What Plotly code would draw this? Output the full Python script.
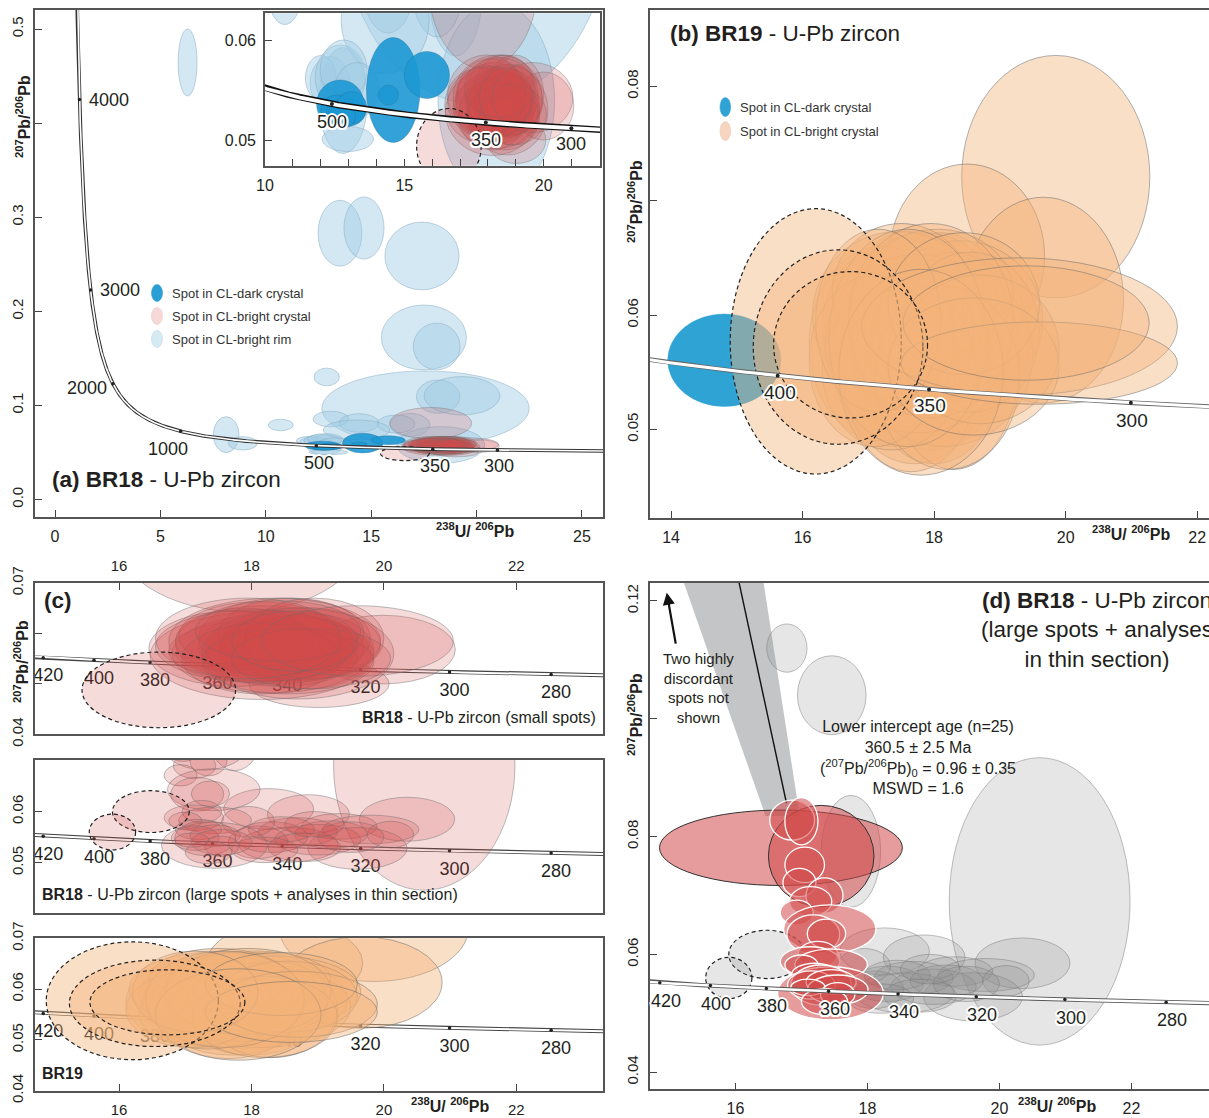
import numpy as np
import plotly.graph_objects as go

W, H = 1209, 1118
F = "Liberation Sans, Arial, Helvetica, sans-serif"
TXT = "#231f20"

# ================= DATA =================
# ellipse = (238U/206Pb centre, 207Pb/206Pb centre, half-width, half-height)

# --- BR18 small spots: panel (a), its inset and (c) top ---
br18_rim = [
    (6.29, 0.4644, 0.45, 0.0356), (13.52, 0.2830, 1.04, 0.0350), (14.66, 0.2885, 0.95, 0.0330),
    (17.41, 0.2588, 1.76, 0.0360), (17.50, 0.1722, 2.02, 0.0345), (18.11, 0.1626, 1.11, 0.0248),
    (12.89, 0.1302, 0.60, 0.0094), (17.58, 0.0969, 4.92, 0.0397), (18.18, 0.1093, 1.03, 0.0177),
    (19.31, 0.1102, 1.80, 0.0204), (16.84, 0.0792, 0.95, 0.0124), (13.09, 0.0855, 0.85, 0.0083),
    (14.42, 0.0813, 0.94, 0.0099), (16.18, 0.0802, 0.90, 0.0096), (14.31, 0.0739, 1.58, 0.0106),
    (18.30, 0.0579, 2.09, 0.0195), (12.80, 0.0579, 0.87, 0.0106), (12.33, 0.0614, 0.71, 0.0053),
    (8.12, 0.0689, 0.61, 0.0191), (8.91, 0.0597, 0.69, 0.0071), (10.71, 0.0792, 0.59, 0.0061),
    (12.00, 0.0624, 0.55, 0.0045), (12.70, 0.0625, 0.90, 0.0065), (12.82, 0.0640, 0.84, 0.0060),
    (12.97, 0.0502, 0.92, 0.0025), (13.30, 0.0600, 0.80, 0.0055),
]
br18_dark = [
    (14.60, 0.0600, 0.96, 0.0105), (15.81, 0.0630, 0.81, 0.0047), (12.70, 0.0572, 0.85, 0.0048),
    (14.43, 0.0590, 0.36, 0.0020), (12.60, 0.0560, 0.60, 0.0030), (12.90, 0.0555, 0.70, 0.0028),
    (13.10, 0.0565, 0.55, 0.0032), (12.75, 0.0548, 0.50, 0.0025),
]
br18_bright = [
    (17.82, 0.0810, 1.95, 0.0167), (19.99, 0.0568, 1.09, 0.0068), (19.02, 0.0500, 1.06, 0.0047),
    (18.16, 0.0556, 1.69, 0.0087), (18.40, 0.0575, 1.20, 0.0070), (18.20, 0.0580, 1.35, 0.0075),
    (18.60, 0.0570, 1.10, 0.0065), (18.00, 0.0565, 1.25, 0.0060), (18.50, 0.0590, 1.30, 0.0080),
    (18.30, 0.0560, 1.50, 0.0078), (18.75, 0.0580, 1.20, 0.0072), (17.90, 0.0585, 1.05, 0.0065),
    (18.45, 0.0555, 1.15, 0.0060), (18.10, 0.0595, 1.20, 0.0068), (18.85, 0.0565, 1.00, 0.0075),
    (18.25, 0.0570, 0.95, 0.0055), (18.60, 0.0600, 1.10, 0.0070), (17.75, 0.0570, 1.30, 0.0075),
    (18.35, 0.0585, 1.60, 0.0085), (18.95, 0.0590, 1.05, 0.0080), (18.15, 0.0550, 1.20, 0.0070),
    (18.55, 0.0545, 1.30, 0.0065), (18.70, 0.0560, 1.45, 0.0090), (18.05, 0.0575, 1.50, 0.0072),
    (18.90, 0.0550, 1.20, 0.0060), (18.40, 0.0605, 1.25, 0.0060), (17.95, 0.0590, 1.40, 0.0080),
    (18.65, 0.0585, 0.95, 0.0060), (19.60, 0.0585, 1.45, 0.0070),
]
br18_bright_dashed = [(16.60, 0.0488, 1.16, 0.0075)]

# --- BR19: panel (b) and (c) bottom ---
br19_dark = [(14.81, 0.05605, 0.86, 0.00404)]
br19_bright = [
    (19.85, 0.0721, 1.43, 0.0106), (18.50, 0.0651, 1.18, 0.0081), (19.66, 0.0613, 1.22, 0.0090),
    (17.55, 0.0585, 1.05, 0.0083), (17.80, 0.0590, 1.10, 0.0078), (17.95, 0.0570, 1.20, 0.0088),
    (17.40, 0.0565, 0.95, 0.0080), (18.10, 0.0600, 1.00, 0.0072), (17.70, 0.0560, 1.15, 0.0090),
    (18.25, 0.0580, 1.20, 0.0075), (17.30, 0.0590, 1.00, 0.0070), (17.60, 0.0605, 0.90, 0.0068),
    (18.00, 0.0555, 1.05, 0.0085), (17.85, 0.0612, 1.10, 0.0060), (18.40, 0.0595, 1.25, 0.0070),
    (17.20, 0.0575, 1.10, 0.0085), (17.65, 0.0545, 1.00, 0.0082), (18.15, 0.0565, 1.35, 0.0080),
    (17.45, 0.0600, 1.30, 0.0073), (17.90, 0.0583, 0.95, 0.0065), (18.30, 0.0560, 1.00, 0.0095),
    (17.75, 0.0575, 1.40, 0.0078), (17.35, 0.0552, 1.05, 0.0070), (18.05, 0.0620, 1.15, 0.0055),
    (17.50, 0.0620, 1.05, 0.0060), (18.55, 0.0585, 1.05, 0.0070), (17.10, 0.0560, 1.00, 0.0075),
    (17.95, 0.0595, 1.25, 0.0085), (18.20, 0.0545, 1.10, 0.0080), (17.60, 0.0580, 1.20, 0.0095),
    (18.70, 0.0570, 1.20, 0.0065), (17.15, 0.0595, 0.95, 0.0080), (18.45, 0.0610, 1.15, 0.0062),
    (17.80, 0.0550, 1.25, 0.0090), (18.60, 0.0555, 1.30, 0.0060),
]
br19_bright_dashed = [(16.20, 0.0577, 1.30, 0.0116), (16.54, 0.0572, 1.29, 0.0085),
                      (16.73, 0.0574, 1.17, 0.0064)]
br19_bright_b_only = [(19.30, 0.0590, 2.40, 0.0060), (19.60, 0.0558, 2.10, 0.0036),
                      (19.40, 0.0593, 1.87, 0.0050)]

# --- BR18 large spots + thin section: panel (d) and (c) middle ---
br18L_used_big = [(16.69, 0.0781, 1.84, 0.0064), (17.30, 0.0767, 0.80, 0.0086)]
br18L_used = [
    (16.86, 0.0828, 0.34, 0.0034), (17.00, 0.0826, 0.25, 0.0040), (17.05, 0.0752, 0.30, 0.0030),
    (16.97, 0.0722, 0.25, 0.0024), (17.35, 0.0700, 0.28, 0.0030), (17.14, 0.0690, 0.32, 0.0025),
    (16.93, 0.0671, 0.25, 0.0021), (17.43, 0.0643, 0.70, 0.0041), (17.18, 0.0634, 0.40, 0.0033),
    (17.38, 0.0635, 0.29, 0.0025), (17.25, 0.0600, 0.30, 0.0022), (17.13, 0.0588, 0.45, 0.0025),
    (17.45, 0.0583, 0.55, 0.0026), (17.00, 0.0582, 0.25, 0.0017), (17.20, 0.0565, 0.35, 0.0020),
    (17.44, 0.0534, 0.80, 0.0045), (17.30, 0.0548, 0.46, 0.0034), (17.15, 0.0548, 0.36, 0.0024),
    (17.45, 0.0553, 0.38, 0.0021), (17.55, 0.0540, 0.46, 0.0025), (17.10, 0.0544, 0.26, 0.0014),
    (17.55, 0.0532, 0.26, 0.0020), (17.35, 0.0520, 0.35, 0.0022),
]
br18L_excluded = [
    (16.78, 0.1120, 0.305, 0.0041), (17.46, 0.1040, 0.52, 0.0067), (20.61, 0.0690, 1.37, 0.0244),
    (17.75, 0.0775, 0.45, 0.0095), (18.26, 0.0605, 0.68, 0.0040), (18.86, 0.0595, 0.62, 0.0038),
    (20.35, 0.0585, 0.72, 0.0043), (19.33, 0.0571, 0.57, 0.0025), (19.80, 0.0565, 0.73, 0.0028),
    (18.56, 0.0535, 0.75, 0.0034), (19.60, 0.0528, 0.75, 0.0041), (20.10, 0.0555, 0.35, 0.0026),
    (18.30, 0.0550, 0.55, 0.0030), (18.70, 0.0560, 0.60, 0.0028), (19.00, 0.0545, 0.65, 0.0030),
    (18.10, 0.0540, 0.45, 0.0032), (18.45, 0.0565, 0.50, 0.0025), (19.20, 0.0555, 0.55, 0.0027),
    (18.80, 0.0530, 0.55, 0.0028), (19.50, 0.0550, 0.50, 0.0030), (18.20, 0.0525, 0.50, 0.0025),
    (18.95, 0.0575, 0.45, 0.0025), (17.95, 0.0580, 0.40, 0.0030),
]
br18L_dashed = [(16.48, 0.0600, 0.58, 0.0041), (15.90, 0.0560, 0.35, 0.0035)]

# concordia age marks (Ma)
ages_a = [4000, 3000, 2000, 1000, 500, 350, 300]
ages_inset = [500, 350, 300]
ages_b = [400, 350, 300]
ages_cd = [420, 400, 380, 360, 340, 320, 300, 280]

# discordia regression (panel d)
lower_intercept_age = 360.5
common_pb_ratio = 0.96
common_pb_err = 0.35

# ================= HELPERS =================
L238, L235, U85 = 1.55125e-10, 9.8485e-10, 137.88


def tw(age_ma):
    t = np.asarray(age_ma, float) * 1e6
    e8 = np.expm1(L238 * t)
    e5 = np.expm1(L235 * t)
    return 1.0 / e8, e5 / e8 / U85


curve_x, curve_y = tw(np.geomspace(200, 4700, 900))

HALO = ", ".join(f"{dx}px {dy}px 0 #fff" for dx, dy in
                 [(-1.5, -1.5), (1.5, -1.5), (-1.5, 1.5), (1.5, 1.5), (0, 2), (0, -2), (2, 0), (-2, 0)])

fig = go.Figure()
shapes = []
annotations = []


def fxp(px):
    return px / W


def fyp(py):
    return 1 - py / H


def add_ellipses(xr, yr, items, fill, line, width, dash="solid", layer="below"):
    for cx, cy, rx, ry in items:
        shapes.append(dict(type="circle", xref=xr, yref=yr, x0=cx - rx, x1=cx + rx,
                           y0=cy - ry, y1=cy + ry, fillcolor=fill,
                           line=dict(color=line, width=width, dash=dash), layer=layer))


def add_concordia(xa, ya, outer_w, inner_w, outer_c, ages, mark_size=4):
    fig.add_trace(go.Scatter(x=curve_x, y=curve_y, xaxis=xa, yaxis=ya, mode="lines",
                             line=dict(color=outer_c, width=outer_w), hoverinfo="skip", showlegend=False))
    fig.add_trace(go.Scatter(x=curve_x, y=curve_y, xaxis=xa, yaxis=ya, mode="lines",
                             line=dict(color="white", width=inner_w), hoverinfo="skip", showlegend=False))
    ax_, ay_ = tw(ages)
    fig.add_trace(go.Scatter(x=ax_, y=ay_, xaxis=xa, yaxis=ya, mode="markers",
                             marker=dict(color="#222", size=mark_size, symbol="circle"),
                             hoverinfo="skip", showlegend=False))


def age_annots(xr, yr, ages, offs, size):
    ax_, ay_ = tw(ages)
    for a, x, y in zip(ages, ax_, ay_):
        dx, dy, anc = offs.get(a, (4, -18, "center"))
        annotations.append(dict(x=x, y=y, xref=xr, yref=yr, text=str(a), showarrow=False,
                                xshift=dx, yshift=dy, xanchor=anc, yanchor="middle",
                                font=dict(family=F, size=size, color=TXT, shadow=HALO)))


# ================= PANEL (a) + inset =================
RIM_F, RIM_L = "rgba(160,205,228,0.45)", "rgba(140,175,198,0.9)"
DARK_F, DARK_L = "rgba(28,152,212,0.9)", "rgba(40,110,150,0.6)"
PINK_F, PINK_L = "rgba(212,73,74,0.2)", "rgba(110,110,110,0.65)"
for xr, yr in [("x", "y"), ("x2", "y2")]:
    add_ellipses(xr, yr, br18_rim, RIM_F, RIM_L, 0.6)
    add_ellipses(xr, yr, br18_bright, PINK_F, PINK_L, 0.6)
    add_ellipses(xr, yr, br18_bright_dashed, PINK_F, "#222", 1.2, dash="4px,3px")
    add_ellipses(xr, yr, br18_dark, DARK_F, DARK_L, 0.6)

add_concordia("x", "y", 3.6, 1.6, "#333", ages_a, 3.5)
add_concordia("x2", "y2", 6.5, 3.8, "#111", ages_inset, 4)

age_annots("x", "y", ages_a, {4000: (7, 0, "left"), 3000: (7, 0, "left"), 2000: (-4, -4, "right"),
                               1000: (-13, -18, "center"), 500: (3, -17, "center"),
                               350: (2, -17, "center"), 300: (2, -16, "center")}, 18)
age_annots("x2", "y2", ages_inset, {500: (0, -18, "center"), 350: (0, -17, "center"),
                                     300: (0, -16, "center")}, 18)

# ================= PANEL (b) =================
ORG_F, ORG_L = "rgba(244,178,122,0.42)", "rgba(110,110,110,0.75)"
add_ellipses("x3", "y3", br19_dark, "rgb(48,163,213)", "rgba(48,163,213,1)", 0.5)
add_ellipses("x3", "y3", br19_bright + br19_bright_b_only, ORG_F, ORG_L, 0.7)
add_ellipses("x3", "y3", br19_bright_dashed, ORG_F, "#222", 1.2, dash="4px,3px")
add_concordia("x3", "y3", 4.6, 3.0, "#666", ages_b, 4)
age_annots("x3", "y3", ages_b, {400: (2, -17, "center"), 350: (1, -16, "center"),
                                 300: (1, -18, "center")}, 19)

# ================= PANEL (c) =================
cx_lab, cy_lab = tw(ages_cd)
for xa, ya in [("x4", "y4"), ("x5", "y5"), ("x6", "y6")]:
    add_concordia(xa, ya, 4.0, 2.0, "#444", ages_cd, 3.5)
    fig.add_trace(go.Scatter(x=cx_lab + 0.075, y=cy_lab - 0.0038, xaxis=xa, yaxis=ya, mode="text",
                             text=[str(a) for a in ages_cd],
                             textfont=dict(family=F, size=18, color=TXT),
                             hoverinfo="skip", showlegend=False, cliponaxis=True))

add_ellipses("x4", "y4", br18_bright, PINK_F, PINK_L, 0.7, layer="above")
add_ellipses("x4", "y4", br18_bright_dashed, PINK_F, "#222", 1.2, dash="4px,3px", layer="above")
add_ellipses("x5", "y5", br18L_excluded + br18L_used_big + br18L_used, PINK_F, PINK_L, 0.7, layer="above")
add_ellipses("x5", "y5", br18L_dashed, PINK_F, "#222", 1.2, dash="4px,3px", layer="above")
add_ellipses("x6", "y6", br19_bright, ORG_F, ORG_L, 0.7, layer="above")
add_ellipses("x6", "y6", br19_bright_dashed, ORG_F, "#222", 1.2, dash="4px,3px", layer="above")

# ================= PANEL (d) =================
xi, yi = tw(lower_intercept_age)


def disc_x(y0, y):
    slope = (yi - y0) / xi
    return (y - y0) / slope


y_top, y_bot = 0.130, 0.0835
lo, hi = common_pb_ratio - common_pb_err, common_pb_ratio + common_pb_err
band = (f"M {disc_x(lo, y_top)},{y_top} L {disc_x(hi, y_top)},{y_top} "
        f"L {disc_x(hi, y_bot)},{y_bot} L {disc_x(lo, y_bot)},{y_bot} Z")
shapes.append(dict(type="path", xref="x7", yref="y7", path=band, fillcolor="#c3c5c7",
                   line=dict(width=0), layer="below"))
shapes.append(dict(type="line", xref="x7", yref="y7", x0=disc_x(common_pb_ratio, y_top), y0=y_top,
                   x1=disc_x(common_pb_ratio, 0.0857), y1=0.0857, line=dict(color="#111", width=1.4),
                   layer="below"))
GRAY_F, GRAY_L = "rgba(140,140,140,0.22)", "rgba(120,120,120,0.8)"
RED_F = "rgba(210,74,74,0.55)"
add_ellipses("x7", "y7", br18L_excluded, GRAY_F, GRAY_L, 0.6)
add_ellipses("x7", "y7", br18L_dashed, GRAY_F, "#222", 1.2, dash="4px,3px")
add_ellipses("x7", "y7", br18L_used_big, RED_F, "#333", 1.0)
add_ellipses("x7", "y7", br18L_used, RED_F, "white", 1.3)
add_concordia("x7", "y7", 4.2, 2.4, "#555", ages_cd, 3.5)
age_annots("x7", "y7", ages_cd, {a: (6, -18, "center") for a in ages_cd}, 18)

# arrow + texts in (d)
annotations.append(dict(x=14.96, y=0.1214, ax=15.10, ay=0.1125, xref="x7", yref="y7",
                        axref="x7", ayref="y7", showarrow=True, arrowhead=2, arrowsize=1.1,
                        arrowwidth=2.2, arrowcolor="#111", text=""))
annotations.append(dict(x=fxp(698), y=fyp(688), showarrow=False,
                        text="Two highly<br>discordant<br>spots not<br>shown", align="center",
                        font=dict(family=F, size=15, color=TXT)))
annotations.append(dict(x=fxp(918), y=fyp(757), showarrow=False,
                        text="Lower intercept age (n=25)<br>360.5 ± 2.5 Ma<br>"
                             "(<sup>207</sup>Pb/<sup>206</sup>Pb)<sub>0</sub> = 0.96 ± 0.35<br>MSWD = 1.6",
                        align="center", font=dict(family=F, size=16, color=TXT)))

# ================= TITLES / LABELS =================
TF = dict(family=F, size=22.5, color=TXT)
annotations += [
    dict(x=fxp(50), y=fyp(480), text="<b>(a) BR18</b> - U-Pb zircon", xanchor="left", font=TF),
    dict(x=fxp(668), y=fyp(33), text="<b>(b) BR19</b> - U-Pb zircon", xanchor="left", font=TF),
    dict(x=fxp(42), y=fyp(600), text="<b>(c)</b>", xanchor="left", font=TF),
    dict(x=fxp(1097), y=fyp(630), text="<b>(d) BR18</b> - U-Pb zircon<br>(large spots + analyses<br>in thin section)",
         xanchor="center", align="center", font=TF),
    dict(x=fxp(598), y=fyp(717), text="<b>BR18</b> - U-Pb zircon (small spots)", xanchor="right",
         font=dict(family=F, size=16, color=TXT)),
    dict(x=fxp(40), y=fyp(894), text="<b>BR18</b> - U-Pb zircon (large spots + analyses in thin section)",
         xanchor="left", font=dict(family=F, size=16, color=TXT)),
    dict(x=fxp(40), y=fyp(1073), text="<b>BR19</b>", xanchor="left", font=dict(family=F, size=16, color=TXT)),
]
YT = "<b><sup>207</sup>Pb/<sup>206</sup>Pb</b>"
XT = "<b><sup>238</sup>U/ <sup>206</sup>Pb</b>"
AF = dict(family=F, size=16, color=TXT)
for px, py in [(23, 117), (635, 202), (21, 662), (635, 715)]:
    annotations.append(dict(x=fxp(px), y=fyp(py), text=YT, textangle=-90, font=AF))
for px, py in [(475, 530), (1131, 533), (450, 1105), (1057, 1105)]:
    annotations.append(dict(x=fxp(px), y=fyp(py), text=XT, font=AF))

# legends
LF = dict(family=F, size=13, color="#333")
leg_a = [("Spot in CL-dark crystal", "rgb(42,159,214)", "rgb(42,159,214)"),
         ("Spot in CL-bright crystal", "rgb(247,216,216)", "rgb(236,196,196)"),
         ("Spot in CL-bright rim", "rgb(214,234,244)", "rgb(190,215,230)")]
for i, (t, fc, lc) in enumerate(leg_a):
    yc = 293 + 23 * i
    shapes.append(dict(type="circle", xref="paper", yref="paper", x0=fxp(151.5), x1=fxp(162.5),
                       y0=fyp(yc + 8.5), y1=fyp(yc - 8.5), fillcolor=fc, line=dict(color=lc, width=0.6)))
    annotations.append(dict(x=fxp(170), y=fyp(yc), text=t, xanchor="left", font=LF))
leg_b = [("Spot in CL-dark crystal", "rgb(48,163,213)", "rgb(48,163,213)"),
         ("Spot in CL-bright crystal", "rgb(247,213,192)", "rgb(236,200,180)")]
for i, (t, fc, lc) in enumerate(leg_b):
    yc = 107 + 24 * i
    shapes.append(dict(type="circle", xref="paper", yref="paper", x0=fxp(720), x1=fxp(730.6),
                       y0=fyp(yc + 9.5), y1=fyp(yc - 9.5), fillcolor=fc, line=dict(color=lc, width=0.6)))
    annotations.append(dict(x=fxp(738), y=fyp(yc), text=t, xanchor="left", font=LF))

for a in annotations:
    a.setdefault("showarrow", False)
    a.setdefault("xref", "paper")
    a.setdefault("yref", "paper")
    a.setdefault("xanchor", "center")
    a.setdefault("yanchor", "middle")

# ================= AXES =================
LINE_C = "#555"


def ax(domain, rng, anchor, tickvals=None, ticktext=None, mirror=True, side=None, angle=None,
       size=16, showticks=True, standoff=4, lw=1.6):
    d = dict(domain=domain, range=rng, anchor=anchor, showgrid=False, zeroline=False,
             showline=True, linecolor=LINE_C, linewidth=lw, mirror=mirror, automargin=False,
             ticks="inside" if showticks else "", ticklen=7, tickcolor="#444", tickwidth=1,
             tickfont=dict(family=F, size=size, color=TXT), fixedrange=True,
             ticklabelstandoff=standoff)
    if tickvals is not None:
        d["tickmode"] = "array"
        d["tickvals"] = tickvals
        d["ticktext"] = ticktext if ticktext is not None else [str(v) for v in tickvals]
    else:
        d["showticklabels"] = False
    if side:
        d["side"] = side
    if angle is not None:
        d["tickangle"] = angle
    return d


xa_dom = [fxp(35), fxp(603)]
xr_dom = [fxp(650), 1.0]
layout = dict(
    template="none",
    width=W, height=H, autosize=False, margin=dict(l=0, r=0, t=0, b=0, pad=0, autoexpand=False),
    paper_bgcolor="white", plot_bgcolor="white", showlegend=False,
    xaxis=ax(xa_dom, [-0.95, 26.0], "y", [0, 5, 10, 15, 20, 25], ["0", "5", "10", "15", "", "25"]),
    yaxis=ax([fyp(517), fyp(10)], [-0.0186, 0.5202], "x", [0, 0.1, 0.2, 0.3, 0.4, 0.5],
             ["0.0", "0.1", "0.2", "0.3", "", "0.5"], angle=-90, size=15),
    xaxis2=ax([fxp(265), fxp(600)], [10, 22.02], "y2", list(range(10, 22)),
              ["10", "", "", "", "", "15", "", "", "", "", "20", ""], lw=1.6),
    yaxis2=ax([fyp(165.7), fyp(13.3)], [0.04486, 0.07534], "x2", [0.05, 0.07], ["0.05", "0.06"],
              size=16, angle=0),
    xaxis3=ax(xr_dom, [13.68, 22.18], "y3", [14, 16, 18, 20, 22]),
    yaxis3=ax([fyp(517.7), fyp(10)], [0.04228, 0.08667], "x3", [0.05, 0.06, 0.07, 0.08],
              ["0.05", "0.06", "", "0.08"], mirror=False, angle=-90, size=15),
    xaxis4=ax(xa_dom, [14.73, 23.31], "y4", [16, 18, 20, 22], side="top", size=15),
    yaxis4=ax([fyp(734.3), fyp(583)], [0.04, 0.07], "x4", [0.04, 0.05, 0.06, 0.07],
              ["0.04", "", "", "0.07"], angle=-90, size=15),
    xaxis5=ax(xa_dom, [14.73, 23.31], "y5", showticks=False),
    yaxis5=ax([fyp(912.7), fyp(760)], [0.0402, 0.0701], "x5", [0.05, 0.06], angle=-90, size=15),
    xaxis6=ax(xa_dom, [14.73, 23.31], "y6", [16, 18, 20, 22], size=15),
    yaxis6=ax([fyp(1090.7), fyp(938.3)], [0.04, 0.07], "x6", [0.04, 0.05, 0.06, 0.07],
              angle=-90, size=15),
    xaxis7=ax(xr_dom, [14.706, 23.176], "y7", [16, 18, 20, 22]),
    yaxis7=ax([fyp(1089.3), fyp(582.7)], [0.0371, 0.1231], "x7", [0.04, 0.06, 0.08, 0.10, 0.12],
              ["0.04", "0.06", "0.08", "", "0.12"], mirror=False, angle=-90, size=15),
    shapes=shapes, annotations=annotations,
)
fig.update_layout(**layout)
fig.write_html("out.html", config={"displayModeBar": False, "staticPlot": False},
               post_script="document.body.style.margin='0px';document.body.style.overflow='hidden';")
